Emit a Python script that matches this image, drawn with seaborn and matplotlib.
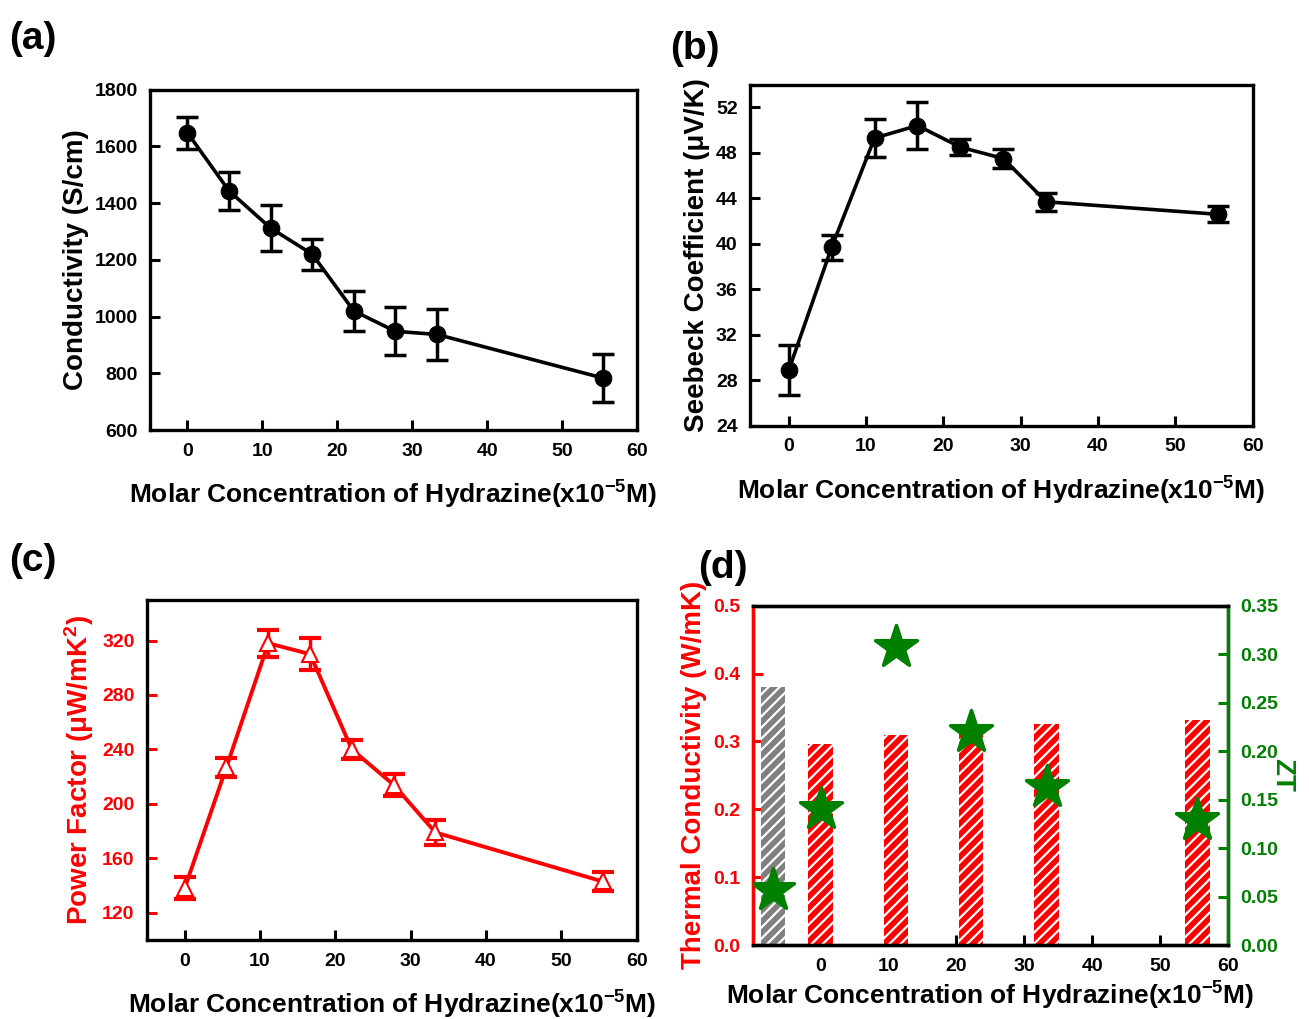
import numpy as np
import pandas as pd
import matplotlib
matplotlib.use("Agg")
import matplotlib.pyplot as plt
from matplotlib.ticker import FormatStrFormatter
import seaborn as sns

# data
conc = [0, 5.55, 11.1, 16.65, 22.2, 27.75, 33.3, 55.5]
cond = [1648, 1443, 1312, 1220, 1020, 948, 937, 783]
cond_err = [57, 68, 80, 55, 70, 85, 90, 85]
seebeck = [28.9, 39.7, 49.3, 50.4, 48.5, 47.5, 43.7, 42.6]
seebeck_err = [2.2, 1.1, 1.7, 2.1, 0.7, 0.8, 0.8, 0.7]
pf = [138, 227, 318, 310, 240, 214, 179, 143]
pf_err = [8, 7, 10, 12, 7, 8, 9, 7]

pristine_x = [-7]
pristine_k = [0.38]
pristine_zt = [0.057]
conc_d = [0, 11.1, 22.2, 33.3, 55.5]
thermal_k = [0.296, 0.309, 0.318, 0.326, 0.331]
zt = [0.14, 0.307, 0.22, 0.163, 0.129]

sns.set_style("ticks")
plt.rcParams["font.family"] = ["Liberation Sans", "DejaVu Sans"]
plt.rcParams["font.weight"] = "bold"
plt.rcParams["axes.labelweight"] = "bold"
plt.rcParams["text.color"] = "black"
plt.rcParams["axes.labelcolor"] = "black"
plt.rcParams["xtick.color"] = "black"
plt.rcParams["ytick.color"] = "black"
plt.rcParams["axes.edgecolor"] = "black"
plt.rcParams["hatch.linewidth"] = 1.6
plt.rcParams["mathtext.default"] = "regular"

xlabel = "Molar Concentration of Hydrazine(x10$^{-5}$M)"
TICK = 14
XLAB = 19
YLAB = 20

df = pd.DataFrame({"conc": conc, "cond": cond, "seebeck": seebeck, "pf": pf})

fig = plt.figure(figsize=(13.09, 10.19), dpi=100)


def style_axes(ax, color_y="black"):
    for s in ax.spines.values():
        s.set_linewidth(2.4)
        s.set_color("black")
    ax.tick_params(direction="in", length=7, width=2.2, labelsize=TICK, pad=9)
    ax.tick_params(axis="y", colors=color_y)
    ax.tick_params(axis="x", colors="black")
    for lab in ax.get_xticklabels() + ax.get_yticklabels():
        lab.set_fontweight("bold")
    ax.set_xlim(-5, 60)
    ax.set_xticks(range(0, 61, 10))
    ax.set_xlabel(xlabel, fontsize=XLAB, labelpad=14)


# (a) conductivity
ax_a = fig.add_axes([0.1146, 0.578, 0.372, 0.334])
ax_a.errorbar(conc, cond, yerr=cond_err, fmt="none", ecolor="black",
              elinewidth=2.5, capsize=8, capthick=2.5)
sns.lineplot(data=df, x="conc", y="cond", ax=ax_a, color="black", lw=2.6,
             marker="o", markersize=12, markeredgecolor="black")
ax_a.set_ylim(600, 1800)
ax_a.set_yticks(range(600, 1801, 200))
ax_a.set_ylabel("Conductivity (S/cm)", fontsize=YLAB)
style_axes(ax_a)

# (b) Seebeck coefficient
ax_b = fig.add_axes([0.573, 0.582, 0.384, 0.335])
ax_b.errorbar(conc, seebeck, yerr=seebeck_err, fmt="none", ecolor="black",
              elinewidth=2.5, capsize=8, capthick=2.5)
sns.lineplot(data=df, x="conc", y="seebeck", ax=ax_b, color="black", lw=2.6,
             marker="o", markersize=12, markeredgecolor="black")
ax_b.set_ylim(24, 54)
ax_b.set_yticks(range(24, 53, 4))
ax_b.set_ylabel("Seebeck Coefficient (μV/K)", fontsize=YLAB)
style_axes(ax_b)

# (c) power factor
ax_c = fig.add_axes([0.1123, 0.0775, 0.374, 0.334])
ax_c.errorbar(conc, pf, yerr=pf_err, fmt="none", ecolor="red",
              elinewidth=2.5, capsize=8, capthick=3)
sns.lineplot(data=df, x="conc", y="pf", ax=ax_c, color="red", lw=2.8,
             marker="^", markersize=11, markerfacecolor="white",
             markeredgecolor="red", markeredgewidth=1.5)
ax_c.set_ylim(100, 350)
ax_c.set_yticks(range(120, 321, 40))
ax_c.set_ylabel("Power Factor (μW/mK$^2$)", fontsize=YLAB, color="red")
style_axes(ax_c, color_y="red")

# (d) thermal conductivity + ZT
ax_d = fig.add_axes([0.575, 0.0726, 0.363, 0.333])
ax_d.bar(pristine_x, pristine_k, width=3.6, color="#808080", edgecolor="white",
         hatch="///", linewidth=0)
ax_d.bar(conc_d, thermal_k, width=3.6, color="#ff0000", edgecolor="white",
         hatch="///", linewidth=0)
ax_d.set_ylim(0, 0.5)
ax_d.set_yticks(np.arange(0, 0.51, 0.1))
ax_d.yaxis.set_major_formatter(FormatStrFormatter("%.1f"))
ax_d.set_ylabel("Thermal Conductivity (W/mK)", fontsize=YLAB, color="red")
style_axes(ax_d, color_y="red")
ax_d.set_xlim(-10, 60)
ax_d.set_xlabel(xlabel, fontsize=XLAB, labelpad=4)
ax_d.spines["left"].set_color("red")

ax_z = ax_d.twinx()
sns.scatterplot(x=pristine_x + conc_d, y=pristine_zt + zt, ax=ax_z,
                marker="*", s=1000, color="green", edgecolor="green", zorder=5)
ax_z.set_ylim(0, 0.35)
ax_z.set_yticks(np.arange(0, 0.351, 0.05))
ax_z.yaxis.set_major_formatter(FormatStrFormatter("%.2f"))
ax_z.tick_params(direction="in", length=7, width=2.2, labelsize=TICK, pad=9,
                 colors="green")
for lab in ax_z.get_yticklabels():
    lab.set_fontweight("bold")
ax_z.set_ylabel("ZT", fontsize=YLAB, color="green", rotation=270,
                labelpad=12)
for s in ax_z.spines.values():
    s.set_linewidth(2.4)
ax_z.spines["right"].set_color("green")
ax_z.spines["left"].set_color("red")
ax_z.spines["top"].set_color("black")
ax_z.spines["bottom"].set_color("black")

# panel letters
for txt, x, y in [("(a)", 0.007, 0.952), ("(b)", 0.512, 0.942),
                  ("(c)", 0.007, 0.44), ("(d)", 0.533, 0.433)]:
    fig.text(x, y, txt, fontsize=28, fontweight="bold")

fig.savefig("out.png", dpi=100)
